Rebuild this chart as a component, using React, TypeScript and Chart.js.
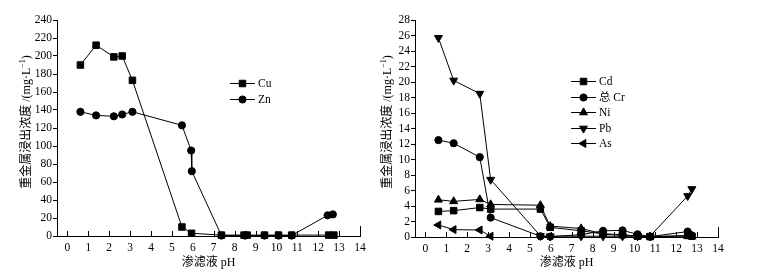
import React, { useEffect, useRef } from "react";
import { Chart, registerables } from "chart.js";
import { drawPoint } from "chart.js/helpers";

Chart.register(...registerables);

const FONT = "'Liberation Serif', 'Noto Sans CJK SC', serif";

// ---------- data ----------
const xTickValues = [0, 1, 2, 3, 4, 5, 6, 7, 8, 9, 10, 11, 12, 13, 14];
const leftYTicks = [0, 20, 40, 60, 80, 100, 120, 140, 160, 180, 200, 220, 240];
const rightYTicks = [0, 2, 4, 6, 8, 10, 12, 14, 16, 18, 20, 22, 24, 26, 28];

const cuPH = [0.62, 1.37, 2.22, 2.62, 3.11, 5.48, 5.94, 7.37, 8.45, 8.6, 9.43, 10.1, 10.73, 12.5, 12.75];
const cuValues = [190, 212, 199, 200, 173, 10, 3, 1, 1, 1, 1, 1, 1, 1, 1];
const znPH = [0.62, 1.37, 2.22, 2.62, 3.11, 5.48, 5.92, 5.95, 7.37, 8.5, 9.43, 10.1, 10.73, 12.45, 12.7];
const znValues = [138, 134, 133, 135, 138, 123, 95, 72, 0.5, 0.5, 0.5, 0.5, 0.5, 23, 24];

const rightPH = [0.62, 1.35, 2.6, 3.12, 5.5, 5.97, 7.45, 8.5, 9.43, 10.15, 10.75, 12.55, 12.75];
const cdValues = [3.3, 3.4, 3.8, 3.6, 3.6, 1.25, 0.8, 0.4, 0.3, 0.1, 0.05, 0.2, 0.1];
const crValues = [12.5, 12.1, 10.3, 2.5, 0.1, 0.05, 0.3, 0.8, 0.85, 0.35, 0.05, 0.7, 0.2];
const niValues = [4.8, 4.6, 4.85, 4.2, 4.1, 1.4, 1.1, 0.4, 0.2, 0.1, 0.05, 0.1, 0.1];
const pbValues = [25.7, 20.2, 18.5, 7.4, 0.15, 0.1, 0.1, 0.1, 0.1, 0.1, 0.1, 5.3, 6.2];
const asPH = [0.62, 1.35, 2.6, 3.12];
const asValues = [1.55, 0.95, 0.9, 0.1];

const toPoints = (xs: number[], ys: number[]) => ys.map((y, i) => ({ x: xs[i], y }));

type SeriesDef = {
  label: string;
  points: { x: number; y: number }[];
  pointStyle: string;
  radius: number;
  rotation: number;
};

const leftSeries: SeriesDef[] = [
  { label: "Cu", points: toPoints(cuPH, cuValues), pointStyle: "rect", radius: 4.6, rotation: 0 },
  { label: "Zn", points: toPoints(znPH, znValues), pointStyle: "circle", radius: 3.6, rotation: 0 },
];

const rightSeries: SeriesDef[] = [
  { label: "Cd", points: toPoints(rightPH, cdValues), pointStyle: "rect", radius: 4.6, rotation: 0 },
  { label: "总 Cr", points: toPoints(rightPH, crValues), pointStyle: "circle", radius: 3.6, rotation: 0 },
  { label: "Ni", points: toPoints(rightPH, niValues), pointStyle: "triangle", radius: 4.6, rotation: 0 },
  { label: "Pb", points: toPoints(rightPH, pbValues), pointStyle: "triangle", radius: 4.6, rotation: 180 },
  { label: "As", points: toPoints(asPH, asValues), pointStyle: "triangle", radius: 4.6, rotation: -90 },
];

type PanelProps = {
  series: SeriesDef[];
  yTicks: number[];
  width: number;
  height: number;
  left: number;
  chartLeft: number;
  chartRight: number;
  chartTop: number;
  chartBottom: number;
  yTitleX: number;
  yTitleY: number;
  legendX: number;
  legendY: number;
  legendGap: number;
};

const decorPlugin = {
  id: "decor",
  afterDraw(chart: any, _args: any, opts: any) {
    const ctx = chart.ctx as CanvasRenderingContext2D;
    const { left, right, bottom } = chart.chartArea;
    const xs = chart.scales.x;
    ctx.save();
    ctx.strokeStyle = "#000";
    ctx.fillStyle = "#000";
    ctx.lineWidth = 1;
    // inward x ticks
    for (const v of xTickValues) {
      const px = Math.round(xs.getPixelForValue(v)) + 0.5;
      const len = v === 14 ? 10 : 5;
      ctx.beginPath();
      ctx.moveTo(px, bottom);
      ctx.lineTo(px, bottom - len);
      ctx.stroke();
    }
    // x title
    ctx.font = `12px ${FONT}`;
    ctx.textAlign = "center";
    ctx.textBaseline = "middle";
    ctx.fillText("渗滤液 pH", (left + right) / 2, 263);
    // y title (rotated)
    ctx.save();
    ctx.translate(opts.yTitleX, opts.yTitleY);
    ctx.rotate(-Math.PI / 2);
    ctx.textAlign = "left";
    ctx.textBaseline = "middle";
    const main = "重金属浸出浓度 /(mg·L";
    const sup = "−1";
    const end = ")";
    ctx.font = `12px ${FONT}`;
    const w1 = ctx.measureText(main).width;
    const w3 = ctx.measureText(end).width;
    ctx.font = `8px ${FONT}`;
    const w2 = ctx.measureText(sup).width;
    let x0 = -(w1 + w2 + w3) / 2;
    ctx.font = `12px ${FONT}`;
    ctx.fillText(main, x0, 0);
    x0 += w1;
    ctx.font = `8px ${FONT}`;
    ctx.fillText(sup, x0, -4);
    x0 += w2;
    ctx.font = `12px ${FONT}`;
    ctx.fillText(end, x0, 0);
    ctx.restore();
    // legend
    const items: SeriesDef[] = opts.series;
    items.forEach((s, i) => {
      const y = Math.round(opts.legendY + i * opts.legendGap) + 0.5;
      const x = opts.legendX;
      ctx.beginPath();
      ctx.moveTo(x, y);
      ctx.lineTo(x + 25, y);
      ctx.stroke();
      drawPoint(ctx, { pointStyle: s.pointStyle as any, radius: s.radius, rotation: s.rotation, borderWidth: 1 }, x + 12.5, y);
      ctx.font = `11.5px ${FONT}`;
      ctx.textAlign = "left";
      ctx.textBaseline = "middle";
      ctx.fillText(s.label, x + 28, y);
    });
    ctx.restore();
  },
};

function Panel(p: PanelProps) {
  const ref = useRef<HTMLCanvasElement | null>(null);
  useEffect(() => {
    if (!ref.current) return;
    const tickFont = { family: FONT, size: 11.5 };
    const chart = new Chart(ref.current, {
      type: "line",
      data: {
        datasets: p.series.map((s) => ({
          label: s.label,
          data: s.points,
          borderColor: "#000",
          backgroundColor: "#000",
          borderWidth: 1,
          pointStyle: s.pointStyle as any,
          pointRadius: s.radius,
          pointRotation: s.rotation,
          pointBackgroundColor: "#000",
          pointBorderColor: "#000",
          pointBorderWidth: 1,
          tension: 0,
          clip: false as any,
        })),
      },
      options: {
        animation: false,
        responsive: false,
        devicePixelRatio: 1,
        layout: { padding: { top: p.chartTop, right: p.width - p.chartRight, left: 0, bottom: 0 } },
        plugins: {
          legend: { display: false },
          tooltip: { enabled: false },
          decor: {
            yTitleX: p.yTitleX,
            yTitleY: p.yTitleY,
            legendX: p.legendX,
            legendY: p.legendY,
            legendGap: p.legendGap,
            series: p.series,
          },
        } as any,
        scales: {
          x: {
            type: "linear",
            min: -0.5,
            max: 14,
            afterBuildTicks: (s: any) => {
              s.ticks = xTickValues.map((v) => ({ value: v }));
            },
            afterFit: (s: any) => {
              s.height = p.height - p.chartBottom;
            },
            grid: { display: true, drawOnChartArea: false, drawTicks: false },
            border: { display: true, color: "#000", width: 1 },
            ticks: { font: tickFont, color: "#000", padding: 5, maxRotation: 0, autoSkip: false },
          },
          y: {
            type: "linear",
            min: p.yTicks[0],
            max: p.yTicks[p.yTicks.length - 1],
            afterBuildTicks: (s: any) => {
              s.ticks = p.yTicks.map((v) => ({ value: v }));
            },
            afterFit: (s: any) => {
              s.width = p.chartLeft;
            },
            grid: { display: true, drawOnChartArea: false, drawTicks: true, tickLength: 4, color: "#000" },
            border: { display: true, color: "#000", width: 1 },
            ticks: { font: tickFont, color: "#000", padding: 1, autoSkip: false },
          },
        },
      },
      plugins: [decorPlugin as any],
    });
    return () => chart.destroy();
  }, []);
  return (
    <canvas
      ref={ref}
      width={p.width}
      height={p.height}
      style={{ position: "absolute", left: p.left, top: 0, width: p.width, height: p.height }}
    />
  );
}

export default function App() {
  return (
    <div style={{ position: "absolute", left: 0, top: 0, width: 772, height: 280, background: "#fff" }}>
      <Panel
        series={leftSeries}
        yTicks={leftYTicks}
        width={376}
        height={280}
        left={0}
        chartLeft={57}
        chartRight={360}
        chartTop={20}
        chartBottom={236}
        yTitleX={27}
        yTitleY={122}
        legendX={230}
        legendY={83}
        legendGap={15.5}
      />
      <Panel
        series={rightSeries}
        yTicks={rightYTicks}
        width={396}
        height={280}
        left={376}
        chartLeft={39}
        chartRight={342}
        chartTop={20}
        chartBottom={237}
        yTitleX={12}
        yTitleY={122}
        legendX={195}
        legendY={81}
        legendGap={15.6}
      />
    </div>
  );
}
